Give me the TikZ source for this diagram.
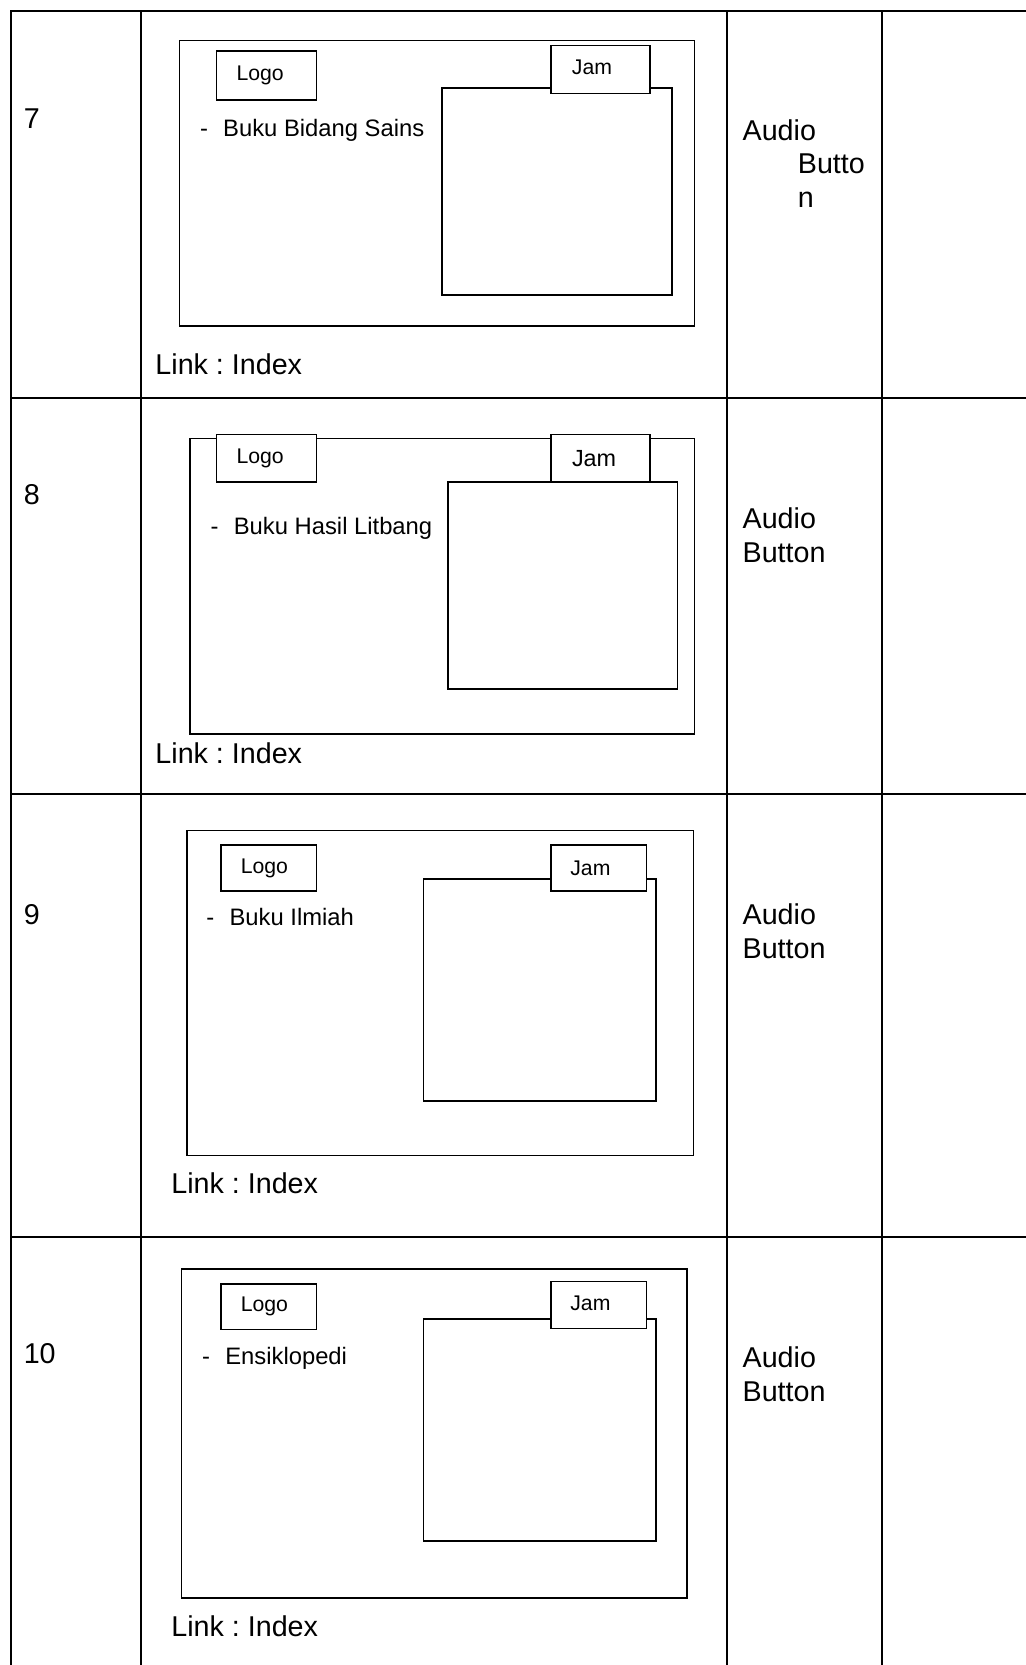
\documentclass[tikz,border=0pt]{standalone}
\usepackage{fontspec}
\setmainfont{Liberation Sans}
\usetikzlibrary{positioning, fit}
\frenchspacing

\begin{document}
\begin{tikzpicture}[x=0.5pt, y=-0.5pt]

    \tikzstyle{grid} = [line width=0.9pt]
    \tikzstyle{screen} = [rectangle, draw, line width=0.75pt, inner sep=0pt]
    \tikzstyle{widget} = [rectangle, draw, fill=white, line width=0.75pt, inner sep=0pt]
    \tikzstyle{caption} = [inner sep=0pt, xshift=-3pt, font=\fontsize{10}{12}\selectfont]
    \tikzstyle{cell} = [inner sep=0pt, anchor=base west, align=left, font=\fontsize{13.5}{15.8}\selectfont]
    \tikzstyle{item} = [inner sep=0pt, anchor=base west, font=\fontsize{11.2}{13.4}\selectfont]

    \useasboundingbox (0,0) rectangle (966,1568);

    % table lines
    \draw[grid] (966,10) -- (10,10) -- (10,1568);
    \draw[grid] (133,10) -- (133,1568);
    \draw[grid] (685,10) -- (685,1568);
    \draw[grid] (831,10) -- (831,1568);
    \draw[grid] (10,375) -- (966,375);
    \draw[grid] (10,748) -- (966,748);
    \draw[grid] (10,1165) -- (966,1165);

    % row 7
    \node (num7) [cell] at (22,121) {7};
    \node (screen7) [screen, fit={(169,38) (654,307)}] {};
    \node (view7) [screen, fit={(416,83) (633,278)}] {};
    \node (logo7) [widget, fit={(204,48) (298,94)}, label={[caption]center:Logo}] {};
    \node (jam7) [widget, fit={(519,43) (612,88)}, label={[caption, xshift=-1pt, yshift=1pt]center:Jam}] {};
    \node (menu7) [item] at (188,128.7) {-\hspace*{7.2pt}Buku Bidang Sains};
    \node (link7) [cell] at (146,353) {Link : Index};
    \node (audio7) [cell, anchor=north west] at (699,112) {Audio\\\hspace*{26pt}Butto\\\hspace*{26pt}n};

    % row 8
    \node (num8) [cell] at (22,475.5) {8};
    \node (screen8) [screen, fit={(179,413) (654,691)}] {};
    \node (view8) [screen, fit={(422,454) (638,649)}] {};
    \node (logo8) [widget, fit={(204,409) (298,454)}, label={[caption]center:Logo}] {};
    \node (jam8) [widget, fit={(519,409) (612,454)}, label={[caption, font=\fontsize{11}{13}\selectfont]center:Jam}] {};
    \node (menu8) [item] at (198,503) {-\hspace*{7.2pt}Buku Hasil Litbang};
    \node (link8) [cell] at (146,719) {Link : Index};
    \node (audio8) [cell, anchor=north west] at (699,478) {Audio\\Button};

    % row 9
    \node (num9) [cell] at (22,871) {9};
    \node (screen9) [screen, fit={(176,782) (653,1088)}] {};
    \node (view9) [screen, fit={(399,828) (618,1037)}] {};
    \node (logo9) [widget, fit={(208,796) (298,839)}, label={[caption, xshift=1pt]center:Logo}] {};
    \node (jam9) [widget, fit={(519,796) (609,839)}, label={[caption, xshift=-1pt]center:Jam}] {};
    \node (menu9) [item] at (194,871.5) {-\hspace*{7.2pt}Buku Ilmiah};
    \node (link9) [cell] at (161,1123.5) {Link : Index};
    \node (audio9) [cell, anchor=north west] at (699,851) {Audio\\Button};

    % row 10
    \node (num10) [cell] at (22,1284.5) {10};
    \node (screen10) [screen, fit={(171,1195) (647,1505)}] {};
    \node (view10) [screen, fit={(399,1242) (618,1451)}] {};
    \node (logo10) [widget, fit={(208,1209) (298,1252)}, label={[caption, xshift=1pt]center:Logo}] {};
    \node (jam10) [widget, fit={(519,1207) (609,1251)}, label={[caption, xshift=-1pt, yshift=1pt]center:Jam}] {};
    \node (menu10) [item] at (190,1284.6) {-\hspace*{7.2pt}Ensiklopedi};
    \node (link10) [cell] at (161,1541) {Link : Index};
    \node (audio10) [cell, anchor=north west] at (699,1268) {Audio\\Button};

\end{tikzpicture}
\end{document}
